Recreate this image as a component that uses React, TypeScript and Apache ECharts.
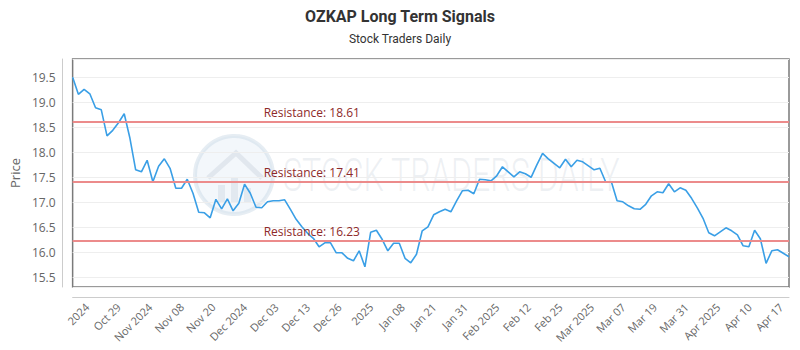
import React, { useEffect, useRef } from "react";
import * as echarts from "echarts";

const titleText = "OZKAP Long Term Signals";
const subtitleText = "Stock Traders Daily";

const prices: number[] = [
  19.5, 19.16, 19.26, 19.17, 18.89, 18.85, 18.33, 18.44, 18.59, 18.77, 18.28, 17.65, 17.61, 17.84, 17.41, 17.72, 17.87, 17.68, 17.28, 17.28, 17.46,
  17.18, 16.8, 16.79, 16.69, 17.06, 16.87, 17.07, 16.83, 16.98, 17.36, 17.18, 16.9, 16.89, 17.01, 17.03, 17.03, 17.05, 16.86, 16.66, 16.51, 16.38,
  16.28, 16.11, 16.19, 16.19, 15.99, 15.99, 15.88, 15.83, 16.03, 15.71, 16.4, 16.44, 16.26, 16.03, 16.18, 16.18, 15.88, 15.79, 15.96, 16.43, 16.51,
  16.75, 16.81, 16.86, 16.81, 17.03, 17.23, 17.24, 17.17, 17.46, 17.45, 17.43, 17.53, 17.71, 17.61, 17.51, 17.61, 17.57, 17.5, 17.75, 17.98, 17.87,
  17.78, 17.69, 17.86, 17.71, 17.84, 17.81, 17.73, 17.65, 17.68, 17.41, 17.41, 17.03, 17.01, 16.93, 16.87, 16.86, 16.96, 17.13, 17.21, 17.19, 17.37,
  17.21, 17.29, 17.24, 17.08, 16.89, 16.68, 16.39, 16.33, 16.41, 16.49, 16.43, 16.35, 16.13, 16.11, 16.44, 16.27, 15.78, 16.03, 16.05, 15.98, 15.91,
];

const tickLabels: string[] = [
  "2024", "Oct 29", "Nov 2024", "Nov 08", "Nov 20", "Dec 2024", "Dec 03", "Dec 13", "Dec 26", "2025", "Jan 08",
  "Jan 21", "Jan 31", "Feb 2025", "Feb 12", "Feb 25", "Mar 2025", "Mar 07", "Mar 19", "Mar 31", "Apr 2025", "Apr 10", "Apr 17",
];

const resistanceLevels: number[] = [18.61, 17.41, 16.23];

const yMin = 15.306;
const yMax = 19.866;

export default function App() {
  const ref = useRef<HTMLDivElement>(null);
  useEffect(() => {
    document.body.style.margin = "0";
    if (!ref.current) return;
    const chart = echarts.init(ref.current, undefined, { renderer: "svg" });
    const axisFont = "'Open Sans', sans-serif";
    chart.setOption({
      animation: false,
      backgroundColor: "#ffffff",
      title: {
        text: titleText,
        subtext: subtitleText,
        left: "center",
        top: 3,
        itemGap: 9,
        textStyle: { fontFamily: "Roboto, sans-serif", fontWeight: "bold", fontSize: 16, color: "#333333" },
        subtextStyle: { fontFamily: "Roboto, sans-serif", fontSize: 12, color: "#333333" },
      },
      graphic: [
        {
          type: "group",
          z: 0,
          silent: true,
          children: [
            { type: "circle", shape: { cx: 234, cy: 175, r: 39 }, style: { fill: "rgba(215,230,242,0.3)", stroke: "rgba(200,214,228,0.45)", lineWidth: 4 } },
            { type: "polyline", shape: { points: [[208, 178], [236, 153], [262, 178]] }, style: { stroke: "rgba(170,185,200,0.25)", lineWidth: 5, fill: "none" } },
            { type: "rect", shape: { x: 218, y: 185, width: 7, height: 18 }, style: { fill: "rgba(170,185,200,0.22)" } },
            { type: "rect", shape: { x: 231, y: 178, width: 7, height: 25 }, style: { fill: "rgba(170,185,200,0.22)" } },
            { type: "rect", shape: { x: 244, y: 188, width: 7, height: 15 }, style: { fill: "rgba(170,185,200,0.22)" } },
            {
              type: "text",
              x: 283,
              y: 175,
              scaleX: 0.7,
              style: {
                text: "STOCK TRADERS DAILY",
                fontFamily: "Roboto, sans-serif",
                fontSize: 46,
                fontWeight: 300,
                fill: "rgba(175,188,202,0.22)",
                verticalAlign: "middle",
                align: "left",
              },
            },
          ],
        },
      ],
      grid: [
        { left: 70, right: 11, top: 59, bottom: 63, show: true, borderColor: "#7a7a7a", borderWidth: 1.5, backgroundColor: "transparent" },
        { left: 87, right: 19, top: 59, bottom: 63, show: false },
      ],
      xAxis: [
        {
          type: "category",
          gridIndex: 0,
          data: prices.map((_, i) => String(i)),
          boundaryGap: false,
          offset: 10,
          axisLine: { show: true, lineStyle: { color: "#cccccc", width: 1 } },
          axisTick: { show: false },
          axisLabel: { show: false },
          splitLine: { show: false },
        },
        {
          type: "category",
          gridIndex: 1,
          data: tickLabels,
          boundaryGap: false,
          offset: 10,
          axisLine: { show: false },
          axisTick: { show: false },
          axisLabel: { show: true, interval: 0, rotate: 45, margin: 8, fontSize: 11, color: "#666666", fontFamily: axisFont },
          splitLine: { show: false },
        },
      ],
      yAxis: [
        {
          type: "value",
          gridIndex: 0,
          min: yMin,
          max: yMax,
          splitNumber: 9,
          offset: 10,
          name: "Price",
          nameLocation: "middle",
          nameGap: 40,
          nameTextStyle: { fontSize: 13, color: "#666666", fontFamily: axisFont },
          axisLine: { show: true, lineStyle: { color: "#cccccc", width: 1 } },
          axisTick: { show: false },
          axisLabel: {
            showMinLabel: false,
            showMaxLabel: false,
            margin: 7,
            fontSize: 12,
            color: "#666666",
            fontFamily: axisFont,
            formatter: (v: number) => v.toFixed(1),
          },
          splitLine: { show: true, lineStyle: { color: "#eeeeee", width: 1 } },
        },
        { type: "value", gridIndex: 1, min: 0, max: 1, show: false },
      ],
      series: [
        {
          type: "line",
          xAxisIndex: 0,
          yAxisIndex: 0,
          data: prices,
          showSymbol: false,
          symbol: "none",
          z: 3,
          lineStyle: { color: "#3a9fe6", width: 1.6 },
          itemStyle: { color: "#3a9fe6" },
          markLine: {
            silent: true,
            symbol: ["none", "none"],
            lineStyle: { color: "#ec8b8b", width: 2, type: "solid" },
            label: {
              show: true,
              position: "insideStartTop",
              distance: [191, 3],
              formatter: (p: any) => "Resistance: " + Number(p.value).toFixed(2),
              color: "#8e2a2a",
              fontSize: 12,
              fontFamily: axisFont,
            },
            data: resistanceLevels.map((v) => ({ yAxis: v })),
          },
        },
      ],
    });
    return () => chart.dispose();
  }, []);
  return <div ref={ref} style={{ width: 800, height: 350 }} />;
}
